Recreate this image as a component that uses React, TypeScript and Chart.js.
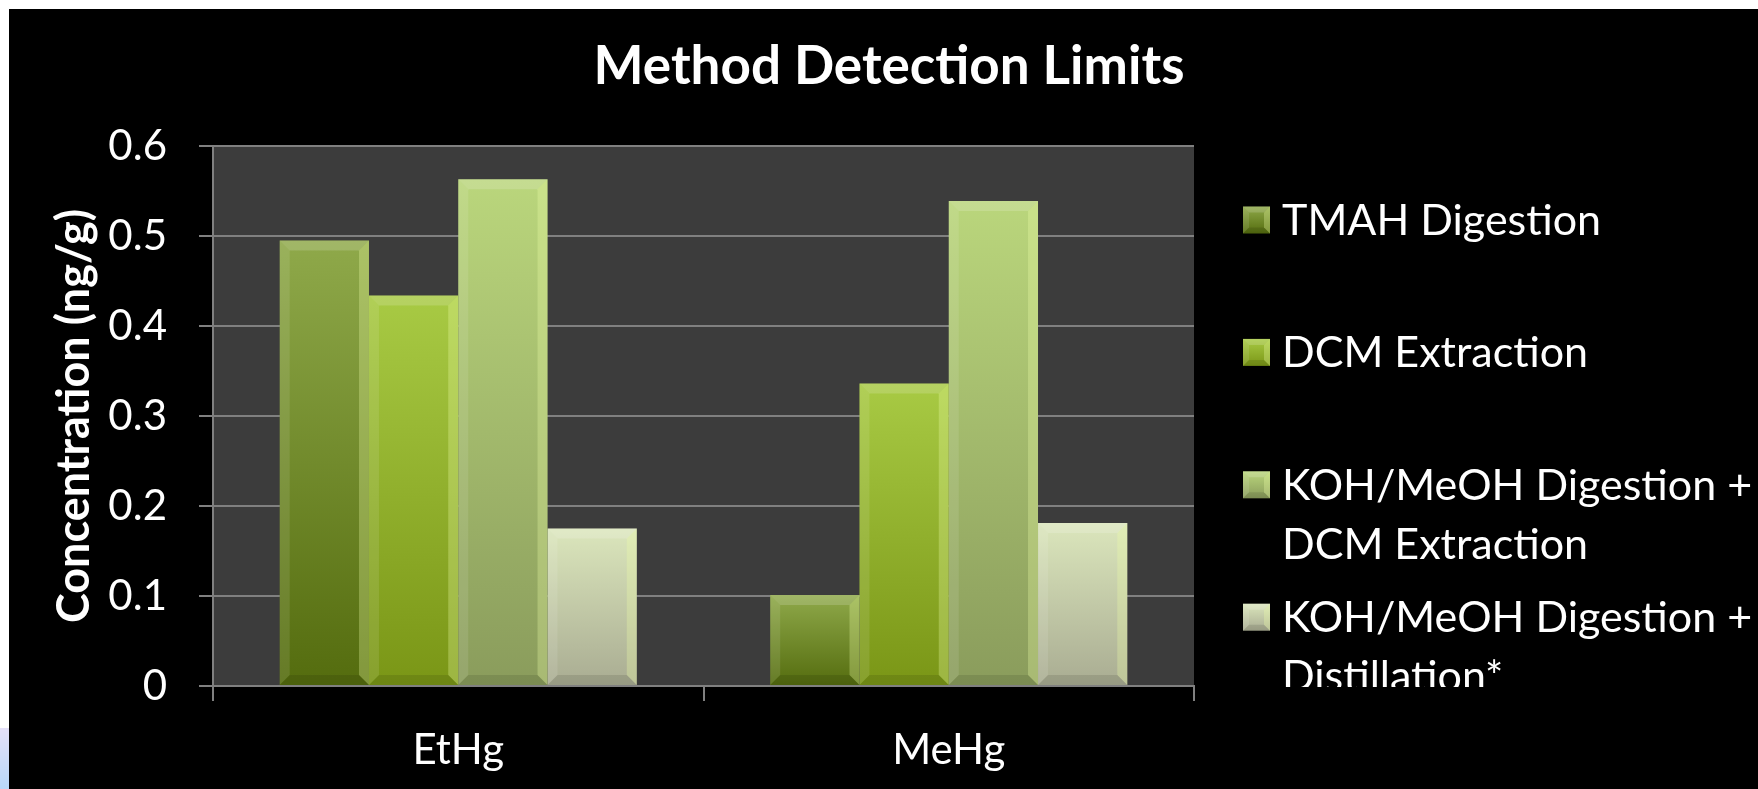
import React, { useEffect, useRef } from "react";
import { Chart, registerables } from "chart.js";

Chart.register(...registerables);

// ---------- data ----------
const categories = ["EtHg", "MeHg"];
const seriesNames = [
  "TMAH Digestion",
  "DCM Extraction",
  "KOH/MeOH Digestion + DCM Extraction",
  "KOH/MeOH Digestion + Distillation*",
];
const legendLines = [
  ["TMAH Digestion"],
  ["DCM Extraction"],
  ["KOH/MeOH Digestion +", "DCM Extraction"],
  ["KOH/MeOH Digestion +", "Distillation*"],
];
const tmahValues = [0.495, 0.101];
const dcmValues = [0.434, 0.336];
const kohDcmValues = [0.563, 0.539];
const kohDistValues = [0.175, 0.181];
const yTickLabels = ["0", "0.1", "0.2", "0.3", "0.4", "0.5", "0.6"];
const chartTitle = "Method Detection Limits";
const yAxisTitle = "Concentration (ng/g)";

// ---------- styles ----------
const colorsTop = ["#8fa94a", "#a8ca44", "#bad67c", "#dbe6bc"];
const colorsBottom = ["#546c0e", "#7a9616", "#8a9c5c", "#a9ac92"];
const FONT = "Lato, 'Open Sans', sans-serif";

function barGradient(i: number) {
  return (ctx: any) => {
    const chart = ctx.chart;
    const y = chart.scales && chart.scales.y;
    if (!y || ctx.type !== "data") return colorsTop[i];
    const y0 = y.getPixelForValue(ctx.raw);
    const y1 = y.getPixelForValue(0);
    if (!isFinite(y0) || !isFinite(y1) || Math.abs(y1 - y0) < 1) return colorsTop[i];
    const g = chart.ctx.createLinearGradient(0, y0, 0, y1);
    g.addColorStop(0, colorsTop[i]);
    g.addColorStop(1, colorsBottom[i]);
    return g;
  };
}

function drawBevel(ctx: CanvasRenderingContext2D, l: number, t: number, r: number, b: number, bv: number) {
  ctx.fillStyle = "rgba(255,255,255,0.16)";
  ctx.beginPath();
  ctx.moveTo(l, t); ctx.lineTo(r, t); ctx.lineTo(r - bv, t + bv); ctx.lineTo(l + bv, t + bv); ctx.closePath();
  ctx.fill();
  ctx.fillStyle = "rgba(255,255,255,0.10)";
  ctx.beginPath();
  ctx.moveTo(l, t); ctx.lineTo(l + bv, t + bv); ctx.lineTo(l + bv, b - bv); ctx.lineTo(l, b); ctx.closePath();
  ctx.fill();
  ctx.fillStyle = "rgba(240,255,170,0.30)";
  ctx.beginPath();
  ctx.moveTo(r, t); ctx.lineTo(r, b); ctx.lineTo(r - bv, b - bv); ctx.lineTo(r - bv, t + bv); ctx.closePath();
  ctx.fill();
  ctx.fillStyle = "rgba(0,0,0,0.10)";
  ctx.beginPath();
  ctx.moveTo(l, b); ctx.lineTo(l + bv, b - bv); ctx.lineTo(r - bv, b - bv); ctx.lineTo(r, b); ctx.closePath();
  ctx.fill();
}

const bgPlugin = {
  id: "bgPlugin",
  beforeDraw(chart: any) {
    const { ctx, width, height, chartArea } = chart;
    ctx.save();
    ctx.fillStyle = "#000";
    ctx.fillRect(0, 0, width, height);
    if (chartArea) {
      ctx.fillStyle = "#3c3c3c";
      ctx.fillRect(chartArea.left, chartArea.top, chartArea.right - chartArea.left, chartArea.bottom - chartArea.top);
    }
    ctx.restore();
  },
};

const bevelPlugin = {
  id: "bevelPlugin",
  afterDatasetsDraw(chart: any) {
    const ctx = chart.ctx;
    ctx.save();
    chart.data.datasets.forEach((_ds: any, i: number) => {
      const meta = chart.getDatasetMeta(i);
      meta.data.forEach((el: any) => {
        const { x, y, base, width } = el.getProps(["x", "y", "base", "width"], true);
        const l = x - width / 2, r = x + width / 2;
        const t = Math.min(y, base), b = Math.max(y, base);
        const bv = Math.min(10, (b - t) / 2, width / 2);
        drawBevel(ctx, l, t, r, b, bv);
      });
    });
    ctx.restore();
  },
};

const titlePlugin = {
  id: "slideTitle",
  afterDraw(chart: any) {
    const { ctx } = chart;
    ctx.save();
    ctx.font = `bold 53px ${FONT}`;
    ctx.fillStyle = "#ffffff";
    ctx.textAlign = "center";
    ctx.textBaseline = "alphabetic";
    ctx.fillText(chartTitle, 880, 75);
    ctx.restore();
  },
};

const legendPlugin = {
  id: "customLegend",
  afterDraw(chart: any) {
    const { ctx, chartArea } = chart;
    ctx.save();
    ctx.beginPath();
    ctx.rect(chartArea.right + 2, 0, chart.width - chartArea.right, chartArea.bottom + 1);
    ctx.clip();
    ctx.font = `43px ${FONT}`;
    ctx.fillStyle = "#ffffff";
    ctx.textBaseline = "alphabetic";
    ctx.textAlign = "left";
    legendLines.forEach((lines, i) => {
      const cy = chartArea.top + 74 + i * 132.4;
      const mx = chartArea.right + 49, my = cy - 13.5, ms = 27;
      const g = ctx.createLinearGradient(0, my, 0, my + ms);
      g.addColorStop(0, colorsTop[i]);
      g.addColorStop(1, colorsBottom[i]);
      ctx.fillStyle = g;
      ctx.fillRect(mx, my, ms, ms);
      drawBevel(ctx, mx, my, mx + ms, my + ms, 6);
      ctx.fillStyle = "#ffffff";
      lines.forEach((line, j) => {
        ctx.fillText(line, chartArea.right + 88, cy + j * 59 + 15);
      });
    });
    ctx.restore();
  },
};

export default function App() {
  const ref = useRef<HTMLCanvasElement | null>(null);

  useEffect(() => {
    if (!ref.current) return;
    const seriesValues = [tmahValues, dcmValues, kohDcmValues, kohDistValues];
    const chart = new Chart(ref.current, {
      type: "bar",
      data: {
        labels: categories,
        datasets: seriesNames.map((name, i) => ({
          label: name,
          data: seriesValues[i],
          backgroundColor: barGradient(i),
          borderWidth: 0,
          categoryPercentage: 0.728,
          barPercentage: 1.0,
        })),
      },
      options: {
        responsive: false,
        devicePixelRatio: 1,
        animation: false,
        layout: { padding: { left: 0, right: 564, top: 137, bottom: 0 } },
        plugins: {
          legend: { display: false },
          tooltip: { enabled: false },
          title: { display: false },
        },
        scales: {
          x: {
            type: "category",
            offset: true,
            grid: {
              display: true,
              offset: true,
              drawOnChartArea: false,
              drawTicks: true,
              tickLength: 15,
              color: "#808080",
              lineWidth: 2,
            },
            border: { display: true, color: "#808080", width: 2 },
            ticks: {
              color: "#ffffff",
              font: { family: FONT, size: 42 },
              padding: 24,
              maxRotation: 0,
            },
            afterFit: (s: any) => { s.height = 103; },
          },
          y: {
            min: 0,
            max: 0.6,
            ticks: {
              stepSize: 0.1,
              color: "#ffffff",
              font: { family: FONT, size: 42 },
              padding: 32,
              callback: (v: any) => yTickLabels[Math.round(Number(v) * 10)],
            },
            grid: { color: "#808080", lineWidth: 2, tickLength: 14 },
            border: { display: true, color: "#808080", width: 2 },
            title: {
              display: true,
              text: yAxisTitle,
              color: "#ffffff",
              font: { family: FONT, size: 45, weight: "bold", lineHeight: 1.2 },
              padding: { top: 38, bottom: 0 },
            },
            afterFit: (s: any) => { s.width = 204; },
          },
        },
      },
      plugins: [bgPlugin, bevelPlugin, titlePlugin, legendPlugin],
    } as any);
    return () => chart.destroy();
  }, []);

  return (
    <>
      <div
        style={{
          position: "fixed",
          left: 0,
          top: 728,
          width: 9,
          height: 61,
          background: "linear-gradient(to bottom, #e4e0f8, #b8d8f8)",
        }}
      />
      <div style={{ position: "fixed", left: 9, top: 9, width: 1749, height: 780, background: "#000" }}>
        <canvas ref={ref} width={1749} height={780} style={{ display: "block" }} />
      </div>
    </>
  );
}
